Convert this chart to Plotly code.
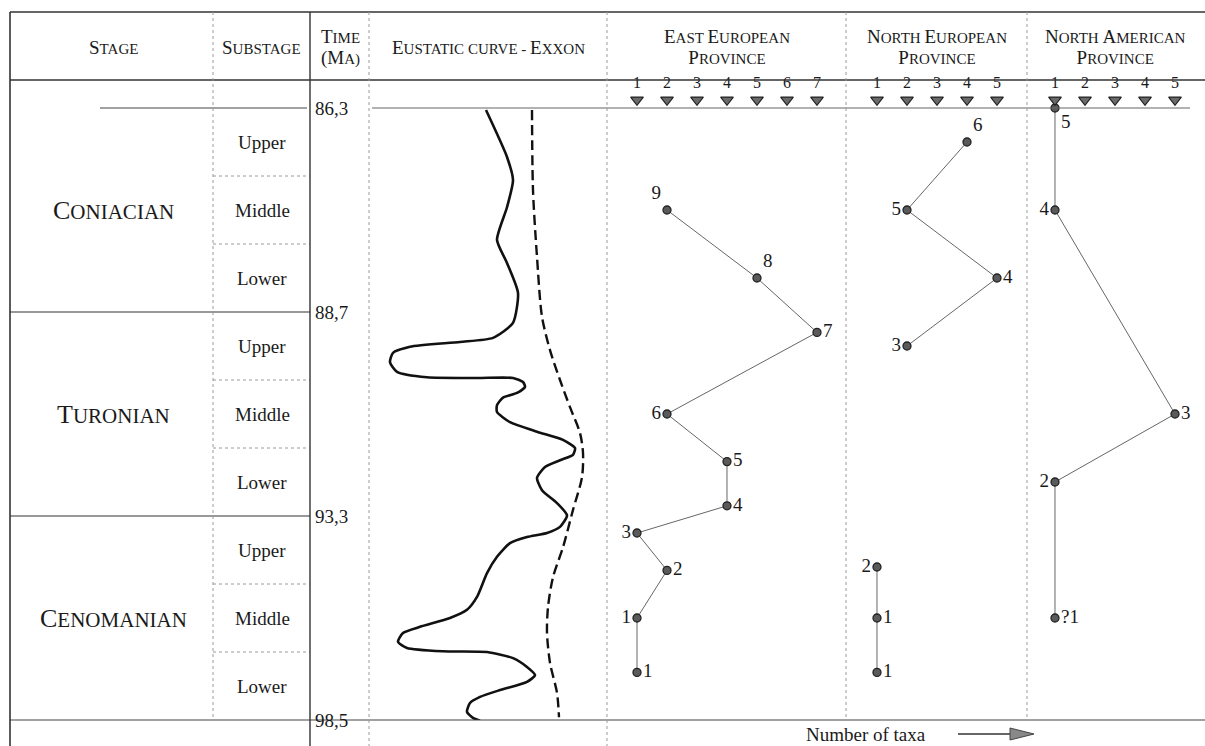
import plotly.graph_objects as go

W, H = 1205, 746
FONT = "Liberation Serif, Times New Roman, serif"
INK = "#1a1a1a"

# ---------------- data ----------------
stages = ["Coniacian", "Turonian", "Cenomanian"]
stage_pos = [1.5, 4.5, 7.5]
substages = ["Upper", "Middle", "Lower"] * 3
substage_pos = [0.5, 1.5, 2.5, 3.5, 4.5, 5.5, 6.5, 7.5, 8.5]
time_labels = ["86,3", "88,7", "93,3", "98,5"]
time_pos = [0, 3, 6, 9]

# Eustatic curve (Exxon): relative sea level (arbitrary units) vs stratigraphic position
eus_solid_level = [117, 138, 144, 138, 128, 138, 149, 144, 124, 91, 41, 24, 21, 28, 58, 108, 144, 154,
                   156, 148, 134, 128, 128, 141, 168, 194, 206, 204, 191, 176, 168, 173, 188, 198, 191,
                   178, 158, 141, 128, 118, 108, 98, 81, 51, 34, 29, 38, 74, 118, 144, 158, 166, 158,
                   131, 111, 101, 98, 104, 111]
eus_solid_pos = [0.03, 0.72, 1.06, 1.46, 1.94, 2.28, 2.72, 3.16, 3.38, 3.44, 3.51, 3.60, 3.74, 3.88,
                 3.96, 3.97, 3.97, 4.03, 4.10, 4.19, 4.26, 4.37, 4.47, 4.62, 4.76, 4.88, 5.00, 5.10,
                 5.18, 5.28, 5.44, 5.62, 5.81, 5.99, 6.16, 6.25, 6.31, 6.40, 6.60, 6.84, 7.19, 7.38,
                 7.50, 7.63, 7.72, 7.85, 7.94, 7.99, 8.00, 8.09, 8.22, 8.34, 8.44, 8.56, 8.66, 8.75,
                 8.88, 8.97, 9.01]
eus_dash_level = [163, 164, 168, 173, 181, 191, 201, 211, 214, 213, 204, 194, 184, 179, 178, 181, 188, 190]
eus_dash_pos = [0.03, 1.21, 2.19, 3.07, 3.56, 4.00, 4.40, 4.78, 5.07, 5.43, 5.91, 6.46, 6.90, 7.34,
                7.72, 8.16, 8.60, 8.96]

# East European Province
ee_ticks = [1, 2, 3, 4, 5, 6, 7]
ee_taxa = [2, 5, 7, 2, 4, 4, 1, 2, 1, 1]
ee_pos = [1.5, 2.5, 3.3, 4.5, 5.2, 5.85, 6.25, 6.8, 7.5, 8.3]
ee_labels = ["9", "8", "7", "6", "5", "4", "3", "2", "1", "1"]

# North European Province (two separate series)
ne_ticks = [1, 2, 3, 4, 5]
ne_taxa_a = [4, 2, 5, 2]
ne_pos_a = [0.5, 1.5, 2.5, 3.5]
ne_labels_a = ["6", "5", "4", "3"]
ne_taxa_b = [1, 1, 1]
ne_pos_b = [6.75, 7.5, 8.3]
ne_labels_b = ["2", "1", "1"]

# North American Province
na_ticks = [1, 2, 3, 4, 5]
na_taxa = [1, 1, 5, 1, 1]
na_pos = [0, 1.5, 4.5, 5.5, 7.5]
na_labels = ["5", "4", "3", "2", "?1"]

# ---------------- helpers ----------------
def px(x):
    return x / W


def py(y):
    return 1 - y / H


def sc(text, big, small):
    """small caps: capitals at big size, the rest uppercase at small size"""
    out = []
    for ch in text:
        if ch.isupper() or ch in "(":
            out.append(f"<span style='font-size:{big}px'>{ch}</span>")
        else:
            out.append(f"<span style='font-size:{small}px'>{ch.upper()}</span>")
    return "".join(out)


fig = go.Figure()

# eustatic curves
fig.add_trace(go.Scatter(x=eus_solid_level, y=eus_solid_pos, xaxis="x", yaxis="y", mode="lines",
                         line=dict(color="#111", width=2.6, shape="spline", smoothing=0.6),
                         hoverinfo="skip", showlegend=False))
fig.add_trace(go.Scatter(x=eus_dash_level, y=eus_dash_pos, xaxis="x", yaxis="y", mode="lines",
                         line=dict(color="#111", width=2.4, dash="10px,5px", shape="spline", smoothing=0.8),
                         hoverinfo="skip", showlegend=False))

pt_marker = dict(size=8, color="#5a5a5a", line=dict(color="#222", width=1.3))
pt_font = dict(family=FONT, size=19, color=INK)
seg_line = dict(color="#555", width=0.9)


def series(xs, ys, labels, positions, xa):
    fig.add_trace(go.Scatter(x=xs, y=ys, xaxis=xa, yaxis="y", mode="lines+markers+text",
                             text=labels, textposition=positions, textfont=pt_font,
                             marker=pt_marker, line=seg_line, cliponaxis=False,
                             hoverinfo="skip", showlegend=False))


def ticks(vals, xa):
    fig.add_trace(go.Scatter(x=vals, y=[-0.12] * len(vals), xaxis=xa, yaxis="y",
                             mode="markers+text", text=[str(v) for v in vals],
                             textposition="top center",
                             textfont=dict(family=FONT, size=16, color=INK),
                             marker=dict(symbol="triangle-down", size=11, color="#6a6a6a",
                                         line=dict(color="#222", width=1.2)),
                             cliponaxis=False, hoverinfo="skip", showlegend=False))


series(ee_taxa, ee_pos, ee_labels,
       ["top left", "top right", "middle right", "middle left", "middle right", "middle right",
        "middle left", "middle right", "middle left", "middle right"], "x2")
series(ne_taxa_a, ne_pos_a, ne_labels_a, ["top right", "middle left", "middle right", "middle left"], "x3")
series(ne_taxa_b, ne_pos_b, ne_labels_b, ["middle left", "middle right", "middle right"], "x3")
series(na_taxa, na_pos, na_labels,
       ["bottom right", "middle left", "middle right", "middle left", "middle right"], "x4")
ticks(ee_ticks, "x2")
ticks(ne_ticks, "x3")
ticks(na_ticks, "x4")

# ---------------- table lines ----------------
shapes = []


def hline(y, x0, x1, color="#333", width=1.2, dash="solid"):
    shapes.append(dict(type="line", xref="paper", yref="paper", x0=px(x0), x1=px(x1),
                       y0=py(y), y1=py(y), line=dict(color=color, width=width, dash=dash)))


def vline(x, y0, y1, color="#333", width=1.2, dash="solid"):
    shapes.append(dict(type="line", xref="paper", yref="paper", x0=px(x), x1=px(x),
                       y0=py(y0), y1=py(y1), line=dict(color=color, width=width, dash=dash)))


LIGHT = "#9a9a9a"
hline(12, 10, 1205, width=1.6)
hline(80, 10, 1205, width=1.3)
hline(108, 100, 307, color="#444", width=1.1)
hline(108, 372, 1190, color="#666", width=1.1)
hline(312, 10, 310, width=1.2)
hline(516, 10, 310, width=1.2)
hline(720, 10, 1205, color="#444", width=1.2)
for yy in [176, 244, 380, 448, 584, 652]:
    hline(yy, 213, 310, color=LIGHT, width=1, dash="dot")

vline(10, 12, 746, width=1.6)
vline(213, 12, 720, color=LIGHT, width=1, dash="dot")
vline(310, 12, 746, width=1.4)
vline(369, 12, 746, color=LIGHT, width=1, dash="dot")
vline(607, 12, 746, color=LIGHT, width=1, dash="dot")
vline(846, 12, 720, color=LIGHT, width=1, dash="dot")
vline(1027, 12, 720, color=LIGHT, width=1, dash="dot")

# arrow for "Number of taxa"
hline(734, 958, 1013, color="#333", width=1.4)
shapes.append(dict(type="path", xref="paper", yref="paper",
                   path=f"M {px(1010)} {py(728)} L {px(1034)} {py(734)} L {px(1010)} {py(740)} Z",
                   fillcolor="#888", line=dict(color="#444", width=1)))

# ---------------- text ----------------
ann = []


def text(x, y, s, size=15, yref="paper", xanchor="center"):
    ann.append(dict(x=px(x), y=(py(y) if yref == "paper" else y), xref="paper", yref=yref,
                    text=s, showarrow=False, xanchor=xanchor, yanchor="middle",
                    font=dict(family=FONT, size=size, color=INK)))


B, S = 19, 15
text(113, 47, sc("Stage", B, S), size=17)
text(261, 47, sc("Substage", B, S), size=17)
text(340, 47, sc("Time", B, S) + "<br>" + sc("(Ma)", B, S), size=16)
text(488, 47, sc("Eustatic curve - Exxon", B, S), size=17)
text(727, 47, sc("East European", B, S) + "<br>" + sc("Province", B, S), size=16)
text(937, 47, sc("North European", B, S) + "<br>" + sc("Province", B, S), size=16)
text(1115, 47, sc("North American", B, S) + "<br>" + sc("Province", B, S), size=16)

for name, p in zip(stages, stage_pos):
    text(113, p, sc(name, 26, 21), yref="y", size=21)
for name, p in zip(substages, substage_pos):
    text(262, p, name, size=19, yref="y")
for lab, p in zip(time_labels, time_pos):
    text(313, p, lab, size=19, yref="y", xanchor="left")

text(866, 734, "Number of taxa", size=19)

common_axis = dict(visible=False, showgrid=False, zeroline=False, fixedrange=True)
fig.update_layout(
    width=W, height=H, margin=dict(l=0, r=0, t=0, b=0),
    paper_bgcolor="white", plot_bgcolor="rgba(0,0,0,0)",
    shapes=shapes, annotations=ann,
    xaxis=dict(domain=[px(369), px(607)], range=[0, 238], anchor="y", **common_axis),
    xaxis2=dict(domain=[px(607), px(846)], range=[0, 7.967], anchor="y", **common_axis),
    xaxis3=dict(domain=[px(846), px(1027)], range=[-0.033, 6.0], anchor="y", **common_axis),
    xaxis4=dict(domain=[px(1027), 1], range=[0.067, 6.0], anchor="y", **common_axis),
    # position 0 = base of header row (86.3 Ma), 9 = 98.5 Ma; range extended up to top frame
    yaxis=dict(domain=[py(720), py(12)], range=[9, (12 - 108) / 68], **common_axis),
    showlegend=False,
)

fig.write_html("out.html", config={"displayModeBar": False},
               post_script="document.body.style.margin='0';")
